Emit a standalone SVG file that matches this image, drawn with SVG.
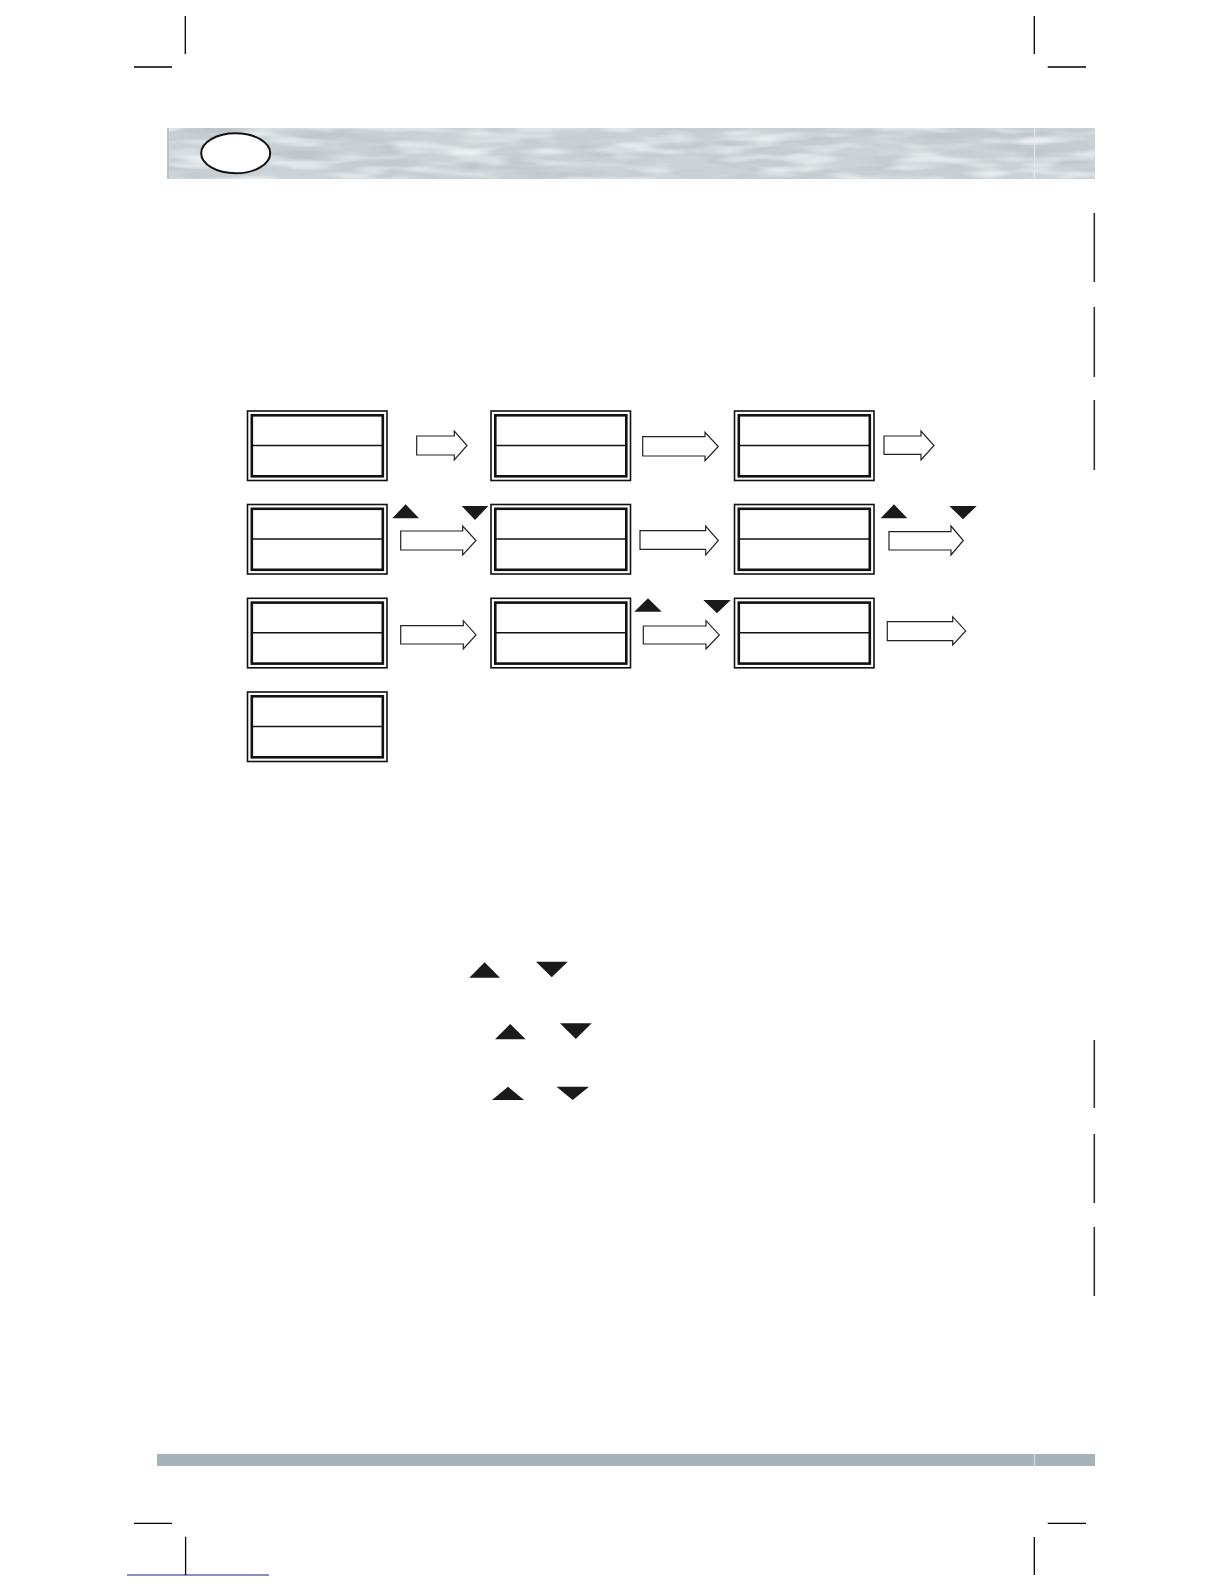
<svg xmlns="http://www.w3.org/2000/svg" width="1224" height="1584" viewBox="0 0 1224 1584">
<style>
.crop{stroke:#000;stroke-width:1.3;fill:none}
.side{stroke:#333;stroke-width:1.6;fill:none}
.outer{fill:#fff;stroke:#111;stroke-width:1.6}
.inner{fill:#fff;stroke:#111;stroke-width:2.6}
.div{stroke:#111;stroke-width:1.4}
.arrow{fill:#fff;stroke:#222;stroke-width:1.2;stroke-linejoin:miter}
.tri{fill:#1a1a1a}
</style>
<defs>
<filter id="water" x="0" y="0" width="100%" height="100%">
<feTurbulence type="fractalNoise" baseFrequency="0.012 0.07" numOctaves="3" seed="4"/>
<feColorMatrix type="matrix" values="0 0 0 0 0.5 0 0 0 0 0.55 0 0 0 0 0.58 2.2 0 0 0 -0.85"/>
</filter>
<filter id="light" x="0" y="0" width="100%" height="100%">
<feTurbulence type="fractalNoise" baseFrequency="0.018 0.09" numOctaves="2" seed="11"/>
<feColorMatrix type="matrix" values="0 0 0 0 0.93 0 0 0 0 0.95 0 0 0 0 0.96 2.0 0 0 0 -0.9"/>
</filter>
<g id="box">
<rect class="outer" x="0" y="0" width="139.5" height="69.5"/>
<rect class="inner" x="4.3" y="4.3" width="131" height="61"/>
<line class="div" x1="4.3" y1="34.5" x2="135.3" y2="34.5"/>
</g>
</defs>
<rect width="1224" height="1584" fill="#fff"/>

<g id="header">
<rect x="167" y="128" width="928" height="51" fill="#cbd3d6"/>
<rect x="167" y="128" width="928" height="51" filter="url(#water)"/>
<rect x="167" y="128" width="928" height="51" filter="url(#light)"/>
<line x1="168" y1="128" x2="168" y2="179" stroke="#b5bcc0" stroke-width="1.5"/>
<line x1="1034.5" y1="128" x2="1034.5" y2="179" stroke="#e4e9eb" stroke-width="1.2"/>
<ellipse cx="235.7" cy="153.3" rx="34.5" ry="20" fill="#fff" stroke="#111" stroke-width="2"/>
</g>

<g id="footer">
<rect x="157" y="1454" width="938" height="12" fill="#a4b4b8"/>
<line x1="1034.5" y1="1454" x2="1034.5" y2="1466" stroke="#d4dcde" stroke-width="1.2"/>
<line x1="127" y1="1575" x2="269" y2="1575" stroke="#1a237e" stroke-width="1.2"/>
</g>

<g id="crop-marks">
<line class="crop" x1="185.3" y1="16" x2="185.3" y2="54"/>
<line class="crop" x1="134" y1="67" x2="172" y2="67"/>
<line class="crop" x1="1034.3" y1="16" x2="1034.3" y2="54"/>
<line class="crop" x1="1047.7" y1="67" x2="1086" y2="67"/>
<line class="crop" x1="134" y1="1523.3" x2="172" y2="1523.3"/>
<line class="crop" x1="185.6" y1="1536.7" x2="185.6" y2="1575"/>
<line class="crop" x1="1047.7" y1="1523.3" x2="1086" y2="1523.3"/>
<line class="crop" x1="1034.3" y1="1537" x2="1034.3" y2="1575"/>
</g>

<g id="side-marks">
<line class="side" x1="1094.3" y1="213" x2="1094.3" y2="282"/>
<line class="side" x1="1094.3" y1="307" x2="1094.3" y2="377"/>
<line class="side" x1="1094.3" y1="400" x2="1094.3" y2="470"/>
<line class="side" x1="1094.3" y1="1040" x2="1094.3" y2="1108"/>
<line class="side" x1="1094.3" y1="1134" x2="1094.3" y2="1203"/>
<line class="side" x1="1094.3" y1="1227" x2="1094.3" y2="1296"/>
</g>

<g id="node-r1c1"><use href="#box" x="247.5" y="411"/></g>
<g id="node-r1c2"><use href="#box" x="491" y="411"/></g>
<g id="node-r1c3"><use href="#box" x="734.5" y="411"/></g>
<g id="node-r2c1"><use href="#box" x="247.5" y="504.5"/></g>
<g id="node-r2c2"><use href="#box" x="491" y="504.5"/></g>
<g id="node-r2c3"><use href="#box" x="734.5" y="504.5"/></g>
<g id="node-r3c1"><use href="#box" x="247.5" y="598.3"/></g>
<g id="node-r3c2"><use href="#box" x="491" y="598.3"/></g>
<g id="node-r3c3"><use href="#box" x="734.5" y="598.3"/></g>
<g id="node-r4c1"><use href="#box" x="247.5" y="692"/></g>

<g id="connectors">
<polygon class="arrow" points="416.7,436 454.3,436 454.3,431 467,445.5 454.3,460 454.3,455 416.7,455"/>
<polygon class="arrow" points="642.7,436.7 705,436.7 705,432.3 718.3,446.5 705,460.7 705,456 642.7,456"/>
<polygon class="arrow" points="884,436 921,436 921,431 934,445.5 921,460 921,454.3 884,454.3"/>
<polygon class="arrow" points="400.7,531 462.7,531 462.7,526 476,540.5 462.7,555 462.7,550 400.7,550"/>
<polygon class="arrow" points="640,530.7 705.7,530.7 705.7,526 718.3,540.5 705.7,555 705.7,549.3 640,549.3"/>
<polygon class="arrow" points="889,531.7 951,531.7 951,526 963.3,540.5 951,555 951,550 889,550"/>
<polygon class="arrow" points="400.7,625.7 463.3,625.7 463.3,620.7 476,634.9 463.3,649 463.3,644 400.7,644"/>
<polygon class="arrow" points="643.3,626 706,626 706,620.7 719.3,634.9 706,649 706,644 643.3,644"/>
<polygon class="arrow" points="887.3,621.7 952.7,621.7 952.7,616.7 965.7,630.9 952.7,645 952.7,640.7 887.3,640.7"/>
</g>

<g id="keys">
<polygon class="tri" points="392.3,518.3 419,518.3 405.6,504.3"/>
<polygon class="tri" points="461.7,506 488.3,506 475,520"/>
<polygon class="tri" points="880.7,518.3 907.3,518.3 894,504.3"/>
<polygon class="tri" points="949.3,506 976.7,506 963,519.3"/>
<polygon class="tri" points="634.3,611.7 661.7,611.7 648,598.3"/>
<polygon class="tri" points="703.3,600 730.7,600 717,613.3"/>
<polygon class="tri" points="469.3,977.7 500,977.7 484.6,962.3"/>
<polygon class="tri" points="536,961.7 567.7,961.7 551.8,977.3"/>
<polygon class="tri" points="495,1039.3 525.7,1039.3 510.3,1024"/>
<polygon class="tri" points="560,1023.3 591.7,1023.3 575.8,1039"/>
<polygon class="tri" points="492,1100 524,1100 508,1086.7"/>
<polygon class="tri" points="556.5,1086.7 589,1086.7 572.7,1100"/>
</g>
</svg>
